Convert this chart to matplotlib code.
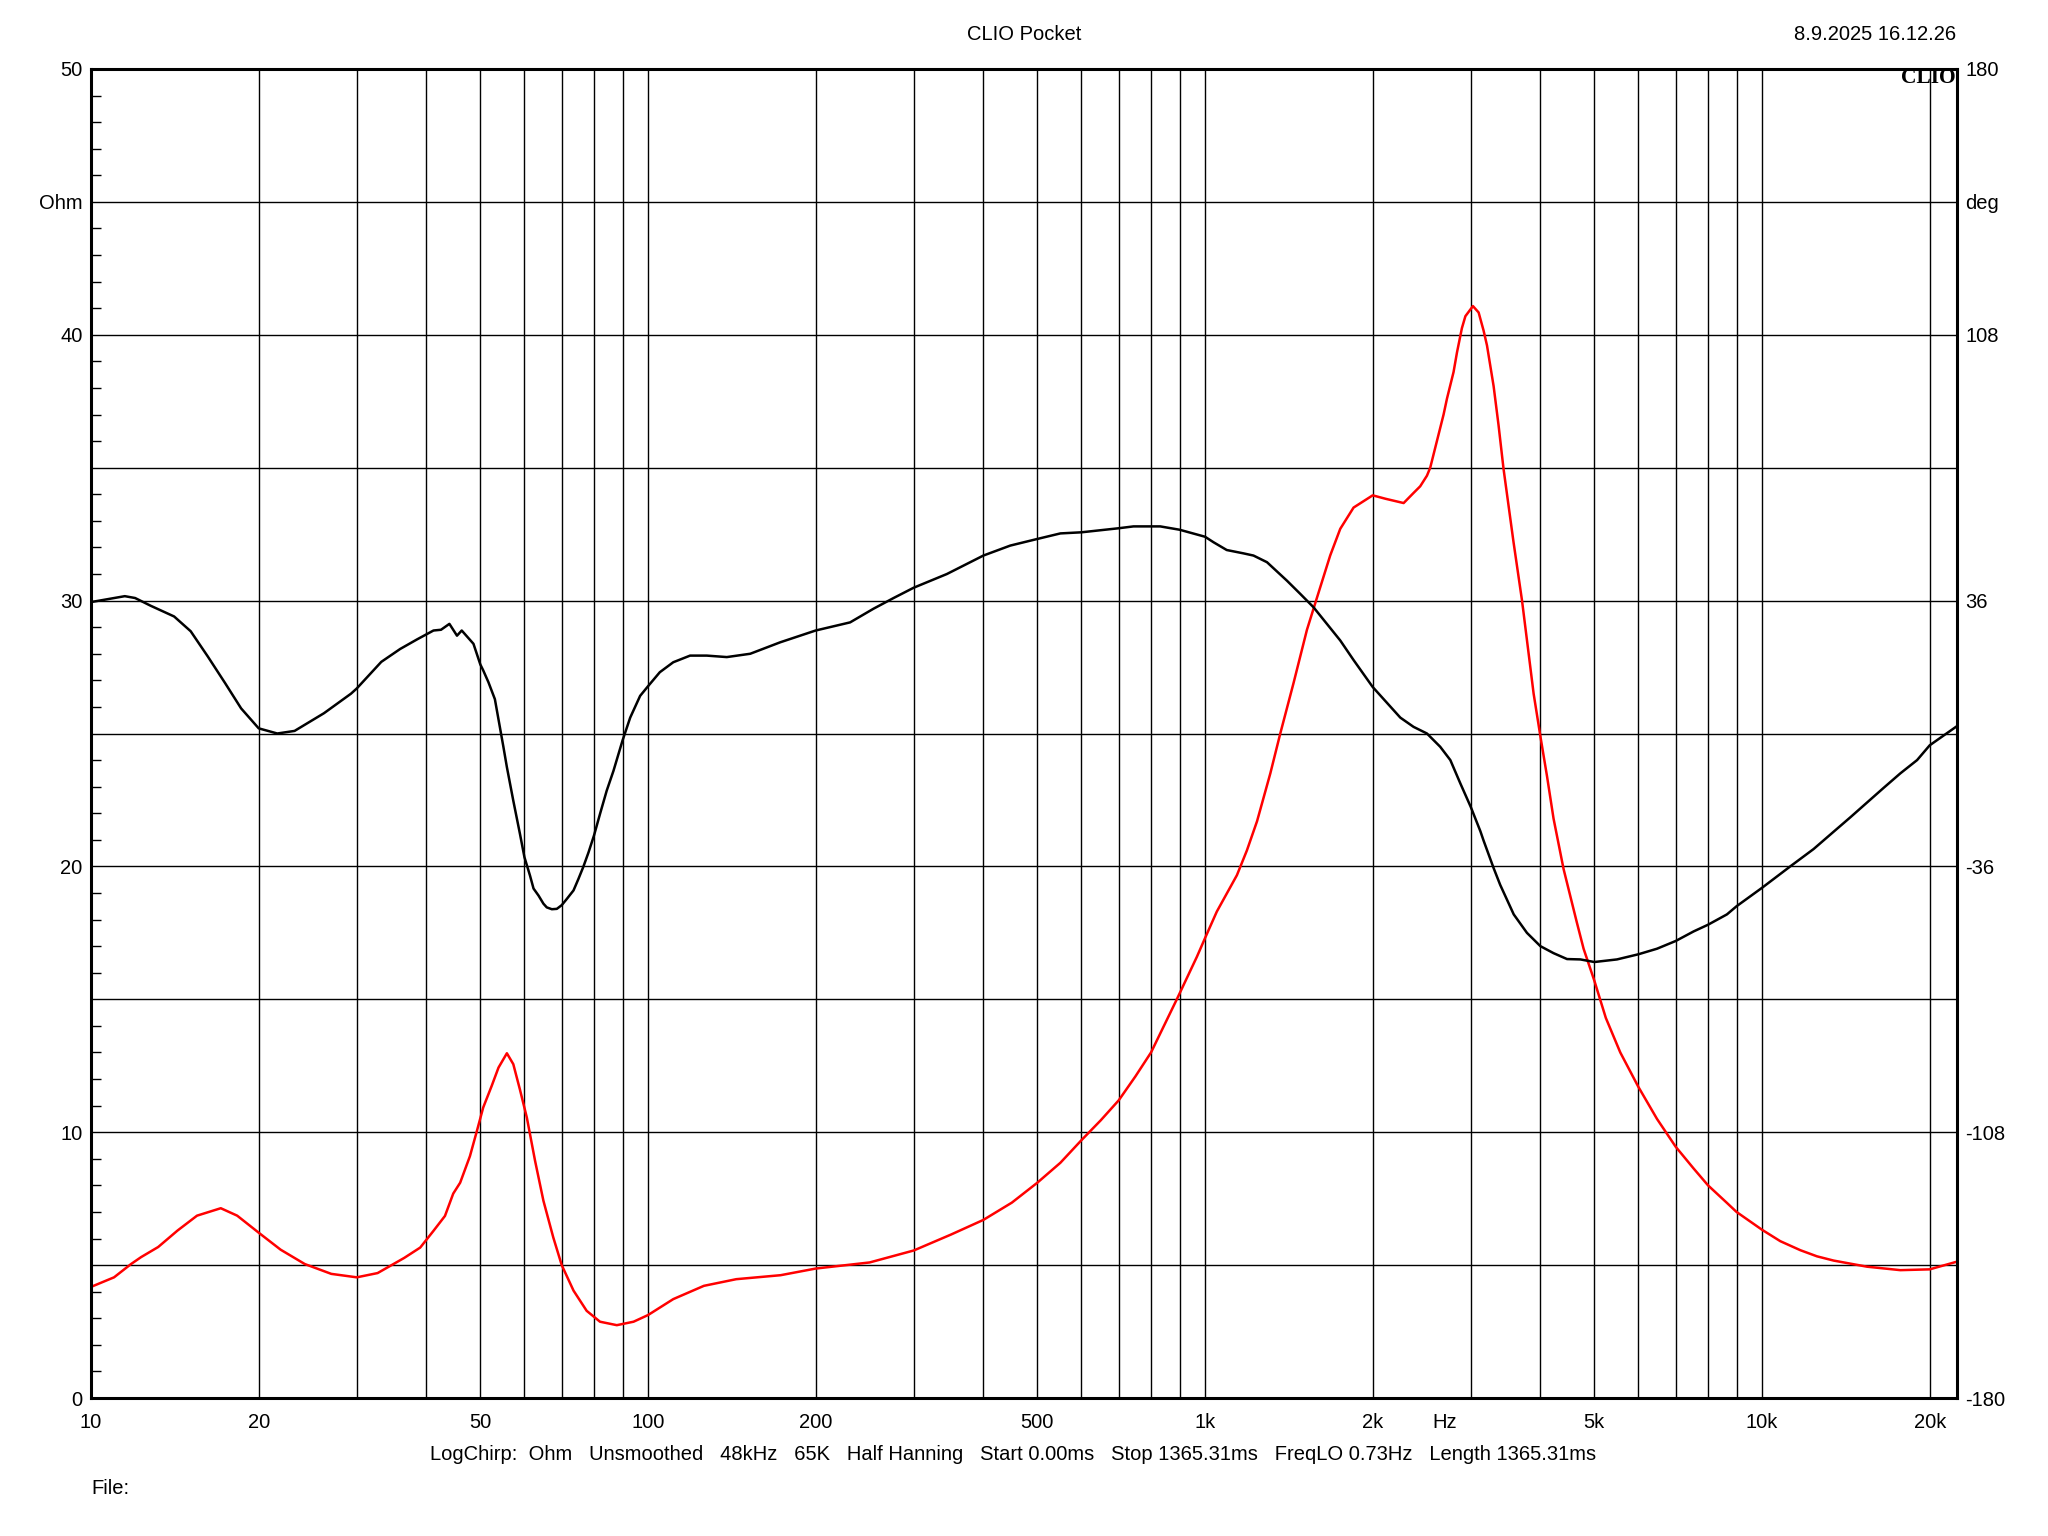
import matplotlib.pyplot as plt
import numpy as np
from matplotlib.ticker import FixedLocator, NullFormatter

plt.rcParams["font.family"] = ["Liberation Sans", "DejaVu Sans"]

# чорна крива (права шкала, град)
freq_black = [10, 11.5, 12, 12.8, 14.1, 15.1, 16.2, 17.4, 18.6, 20, 21.6, 23.2,
              26.2, 29.3, 30, 33.2, 35.9, 38.5, 41.2, 42.5, 44.0, 45.4, 46.3, 48.6,
              50, 50.6, 51.7, 53.1, 55.0, 55.8, 57.3, 58.9, 60, 61.4, 62.3, 63.6,
              64.9, 65.8, 67.2, 68.6, 70, 71.5, 73.5, 75.0, 76.5, 78.2, 80, 82.0,
              84.3, 86.7, 90, 92.9, 96.8, 100, 105, 111, 119, 127.5, 138.5, 152.6,
              172.7, 200, 230.6, 254, 276, 300, 344, 400, 447, 500, 550, 600, 700,
              744, 831, 900, 1000, 1036, 1094, 1172, 1222, 1292, 1403, 1483, 1566,
              1655, 1749, 1848, 2000, 2242, 2368, 2503, 2644, 2757, 2873, 3000, 3122,
              3163, 3298, 3388, 3583, 3784, 4000, 4224, 4466, 4720, 5000, 5490, 6000,
              6478, 7000, 7540, 8000, 8650, 9000, 10000, 11238, 12376, 13446, 14407,
              15436, 16540, 17714, 18985, 20000, 22390]
phase_deg = [35.6, 37.2, 36.7, 34.6, 31.7, 27.7, 20.9, 13.7, 6.8, 1.4, 0.0, 0.7,
             5.5, 10.8, 12.2, 19.4, 22.9, 25.5, 27.9, 28.1, 29.7, 26.5, 27.9, 24.3,
             18.7, 17.1, 13.9, 9.3, -3.6, -9.1, -18.2, -27.2, -33.5, -38.5, -42.0, -43.9,
             -46.1, -47.1, -47.6, -47.5, -46.5, -44.8, -42.5, -39.4, -36.2, -32.2, -27.6, -21.8,
             -15.5, -10.1, -1.9, 4.3, 10.2, 12.8, 16.6, 19.3, 21.1, 21.1, 20.7, 21.6,
             24.7, 27.9, 30.1, 33.8, 36.7, 39.5, 43.2, 48.2, 50.9, 52.7, 54.2, 54.5, 55.6,
             56.1, 56.1, 55.2, 53.3, 51.8, 49.7, 48.8, 48.2, 46.4, 41.4, 37.8, 34.2,
             29.7, 25.2, 19.9, 12.6, 4.3, 1.8, 0.0, -3.6, -7.2, -13.5, -19.9, -26.5,
             -29.0, -36.5, -41.0, -49.0, -54.0, -57.6, -59.5, -61.1, -61.2, -61.9, -61.2, -59.8,
             -58.3, -56.2, -53.6, -51.8, -49.0, -46.8, -41.8, -36.0, -31.3, -26.6, -22.7,
             -18.7, -14.7, -10.8, -7.2, -3.2, 2.0]

# червона крива (ліва шкала, Ом)
freq_red = [10, 11.0, 11.8, 12.3, 13.2, 14.3, 15.5, 17.1, 18.3, 20, 21.9, 24.2,
            27.0, 30, 32.7, 36.5, 39, 41.2, 43.2, 44.7, 46.0, 47.9, 49.3, 50.6,
            52.4, 53.9, 55.8, 57.3, 58.9, 60.6, 62.7, 64.9, 67.6, 70, 73.5, 77.6,
            82, 87.9, 94.2, 100, 111, 126, 144, 173, 200, 250, 300, 350, 400, 450,
            500, 550, 600, 650, 700, 750, 800, 890, 967, 1000, 1050, 1141, 1189, 1240,
            1310, 1365, 1442, 1524, 1588, 1678, 1749, 1848, 2000, 2110, 2273, 2368,
            2434, 2503, 2537, 2608, 2681, 2719, 2794, 2834, 2892, 2934, 3027, 3099,
            3163, 3208, 3297, 3365, 3435, 3532, 3580, 3708, 3890, 4000, 4111, 4224,
            4403, 4650, 4783, 5000, 5243, 5566, 6000, 6478, 7000, 7540, 8000, 8650,
            9000, 10000, 10785, 11719, 12550, 13446, 15436, 17714, 20000, 22390]
imp_ohm = [4.18, 4.54, 5.04, 5.3, 5.68, 6.3, 6.86, 7.14, 6.86, 6.22, 5.58, 5.04,
           4.67, 4.54, 4.7, 5.27, 5.66, 6.29, 6.85, 7.69, 8.1, 9.1, 10.05, 10.93,
           11.74, 12.43, 12.97, 12.56, 11.6, 10.55, 8.92, 7.42, 6.04, 5.0, 4.04, 3.28,
           2.87, 2.74, 2.87, 3.12, 3.72, 4.22, 4.47, 4.62, 4.87, 5.1, 5.55, 6.15, 6.7, 7.35,
           8.1, 8.85, 9.7, 10.45, 11.2, 12.1, 13.0, 15.0, 16.6, 17.3, 18.3, 19.67, 20.6, 21.7,
           23.5, 25.0, 26.9, 28.9, 30.1, 31.7, 32.7, 33.5, 33.96, 33.83, 33.67, 34.05,
           34.3, 34.7, 35.0, 36.0, 37.0, 37.6, 38.6, 39.34, 40.25, 40.7, 41.08, 40.84,
           40.16, 39.6, 38.07, 36.6, 34.96, 33.1, 32.2, 30.0, 26.5, 24.9, 23.4, 21.8,
           19.9, 17.9, 16.9, 15.7, 14.3, 13.0, 11.7, 10.5, 9.45, 8.63, 8.0, 7.34,
           7.0, 6.33, 5.9, 5.56, 5.33, 5.17, 4.94, 4.81, 4.84, 5.13]

x_ticks = [10, 20, 50, 100, 200, 500, 1000, 2000, 2690, 5000, 10000, 20000]
x_labels = ["10", "20", "50", "100", "200", "500", "1k", "2k", "Hz", "5k", "10k", "20k"]
x_grid = [m * 10 ** d for d in range(1, 5) for m in range(1, 10) if m * 10 ** d <= 20000]

ohm_ticks = list(range(0, 51, 5))
ohm_labels = ["0", "", "10", "", "20", "", "30", "", "40", "Ohm", "50"]
deg_ticks = list(range(-180, 181, 36))
deg_labels = ["-180", "", "-108", "", "-36", "", "36", "", "108", "deg", "180"]

info = ("LogChirp:  Ohm   Unsmoothed   48kHz   65K   Half Hanning   Start 0.00ms"
        "   Stop 1365.31ms   FreqLO 0.73Hz   Length 1365.31ms")

FS = 14.5

fig = plt.figure(figsize=(20.48, 15.36), dpi=100)
ax = fig.add_axes([91 / 2048, 1 - 1398 / 1536, 1866 / 2048, 1329 / 1536])

ax.set_xscale("log")
ax.plot(freq_red, imp_ohm, color="#ff0000", lw=1.8)
ax.set_xlim(10, 22390)
ax.set_ylim(0, 50)

# мінорні лінії сітки збігаються з підписаними - не прибирати їх
ax.xaxis.remove_overlapping_locs = False
ax.xaxis.set_major_locator(FixedLocator(x_ticks))
ax.set_xticklabels(x_labels)
ax.xaxis.set_minor_locator(FixedLocator(x_grid))
ax.xaxis.set_minor_formatter(NullFormatter())
ax.tick_params(axis="x", which="both", length=0, pad=11, labelsize=FS)

ax.set_yticks(ohm_ticks)
ax.set_yticklabels(ohm_labels)
ax.yaxis.set_minor_locator(FixedLocator(list(range(0, 51))))
ax.tick_params(axis="y", which="major", length=0, pad=6, labelsize=FS)
ax.tick_params(axis="y", which="minor", direction="in", length=7, width=1.0,
               left=True, right=True, color="black")

ax.grid(True, which="minor", axis="x", color="black", lw=1.0)
ax.grid(True, which="major", axis="y", color="black", lw=1.0)
ax.xaxis.grid(False, which="major")
for s in ax.spines.values():
    s.set_linewidth(2.2)

ax2 = ax.twinx()
ax2.plot(freq_black, phase_deg, color="black", lw=1.8)
ax2.set_ylim(-180, 180)
ax2.set_yticks(deg_ticks)
ax2.set_yticklabels(deg_labels)
ax2.tick_params(axis="y", which="both", length=0, pad=6, labelsize=FS)
for s in ax2.spines.values():
    s.set_visible(False)

ax.text(0.999, 0.9932, "CLIO", transform=ax.transAxes, ha="right", va="center",
        family=["Liberation Serif", "DejaVu Serif"], fontweight="bold", fontsize=15.5)

fig.text(0.5, 1 - 34 / 1536, "CLIO Pocket", ha="center", va="center", fontsize=FS)
fig.text(1956 / 2048, 1 - 34 / 1536, "8.9.2025 16.12.26", ha="right", va="center",
         fontsize=FS)
fig.text(1013 / 2048, 1 - 1455 / 1536, info, ha="center", va="center", fontsize=FS)
fig.text(91 / 2048, 1 - 1489 / 1536, "File:", ha="left", va="center", fontsize=FS)

fig.savefig("out.png", dpi=100, facecolor="white")
